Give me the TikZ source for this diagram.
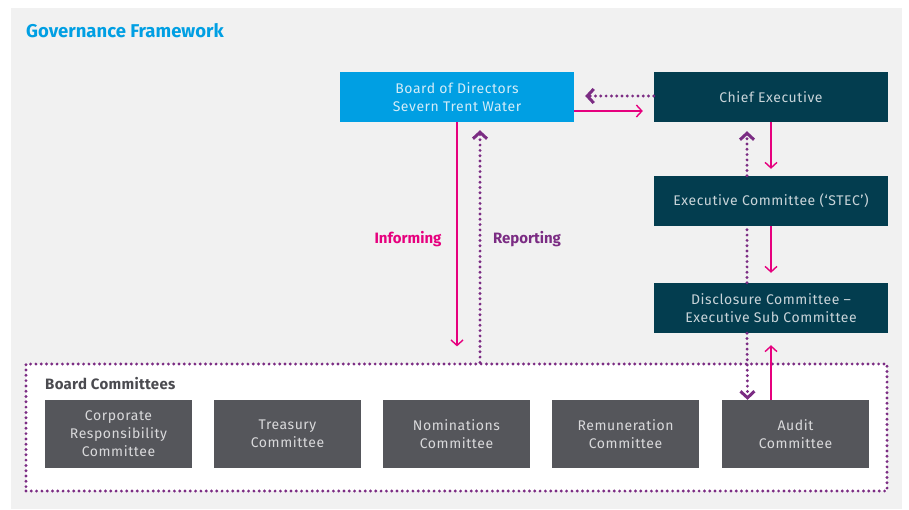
\documentclass[tikz,border=0pt]{standalone}
\usepackage{fontspec}
\setmainfont{Fira Sans}
\usetikzlibrary{arrows.meta}
\definecolor{panel}{HTML}{F1F1F1}
\definecolor{sblue}{HTML}{009FE3}
\definecolor{steal}{HTML}{033D4F}
\definecolor{sgray}{HTML}{55565B}
\definecolor{spink}{HTML}{E6007E}
\definecolor{spurple}{HTML}{7B2C83}
\definecolor{ltext}{HTML}{C9D4D9}
\definecolor{btext}{HTML}{D2ECF8}
\definecolor{gtext}{HTML}{D9D9DB}
\definecolor{lbl}{HTML}{4B4B50}
\newcommand{\boxfont}{\fontsize{14}{18}\selectfont\addfontfeature{LetterSpace=4}}
\tikzset{
  box/.style={rectangle, minimum width=234pt, minimum height=50pt, inner sep=0pt, align=center,
    font=\boxfont},
  bluebox/.style={box, fill=sblue, text=btext},
  tealbox/.style={box, fill=steal, text=ltext},
  graybox/.style={rectangle, minimum width=147pt, minimum height=68pt, inner sep=0pt, align=center,
    fill=sgray, text=gtext, font=\boxfont},
  inform/.style={draw=spink, line width=1.4pt, -{Straight Barb[length=5.5pt,width=12pt,line width=1.4pt]}},
  dots/.style={draw=spurple, line width=3.2pt, line cap=round, dash pattern=on 0pt off 5.3pt},
  report/.style={dots, -{Straight Barb[length=6.5pt,width=14pt,line width=3pt]}},
}
\begin{document}
\begin{tikzpicture}[x=1pt,y=-1pt]
\useasboundingbox (0,0) rectangle (909,509);
\fill[white] (0,0) rectangle (909,509);
\fill[panel] (11,8) rectangle (902,509);
\node[anchor=west, inner sep=0pt, text=sblue, font=\fontsize{18.5}{20}\bfseries] (title) at (26,31) {Governance Framework};

\node[dots, fill=white, minimum width=861pt, minimum height=127pt, inner sep=0pt] (bc) at (456.5,427.5) {};
\node[anchor=west, inner sep=0pt, text=lbl, font=\fontsize{15}{16}\bfseries\addfontfeature{LetterSpace=2}] (bclbl) at (45,384) {Board Committees};

\node[bluebox] (board) at (457,97) {Board of Directors\\Severn Trent Water};
\node[tealbox] (ce) at (771,97) {Chief Executive};
\node[tealbox] (stec) at (771,201) {Executive Committee (`STEC')};
\node[tealbox] (disc) at (771,308) {Disclosure Committee --\\Executive Sub Committee};

\node[graybox] (corp) at (118.5,434) {Corporate\\Responsibility\\Committee};
\node[graybox] (treas) at (287.5,434) {Treasury\\Committee};
\node[graybox] (nom) at (456.5,434) {Nominations\\Committee};
\node[graybox] (rem) at (625.5,434) {Remuneration\\Committee};
\node[graybox] (audit) at (795.5,434) {Audit\\Committee};

\node[text=spink, font=\fontsize{15}{16}\bfseries] (inf) at (408,239) {Informing};
\node[text=spurple, font=\fontsize{15}{16}\bfseries] (rep) at (527,239) {Reporting};

% board <-> chief executive
\draw[inform, shorten >=11pt] ([yshift=-14pt]board.east) -- ([yshift=-14pt]board.east -| ce.west);
\draw[report, shorten >=11pt] ([yshift=1pt]ce.west) -- ([yshift=1pt]ce.west -| board.east);
% board <-> board committees
\draw[inform, shorten >=16pt] (board.south) -- (board.south |- bc.north);
\draw[report, shorten >=8pt] ([xshift=23pt]board.south |- bc.north) -- ([xshift=23pt]board.south);
% chief executive chain
\draw[inform, shorten >=7pt] (ce.south) -- (stec.north);
\draw[report, shorten >=9pt] ([xshift=-24pt]stec.north) -- ([xshift=-24pt]ce.south);
\draw[inform, shorten >=10pt] (stec.south) -- (disc.north);
\draw[dots] ([xshift=-24pt]disc.north) -- ([xshift=-24pt]stec.south);
\draw[report] ([xshift=-24pt]disc.south) -- ([xshift=-48pt]audit.north);
\draw[inform, shorten >=12pt] ([xshift=-24.5pt]audit.north) -- ([xshift=-24.5pt]audit.north |- disc.south);
\end{tikzpicture}
\end{document}
